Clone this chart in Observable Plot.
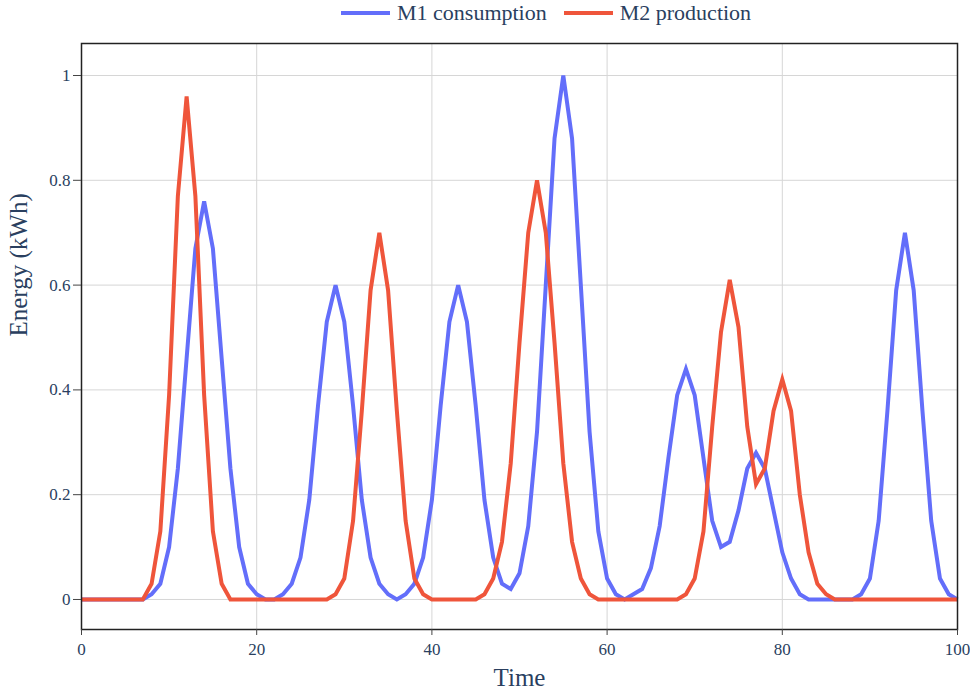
<!DOCTYPE html>
<html>
<head>
<meta charset="utf-8">
<script src="https://cdn.jsdelivr.net/npm/d3@7"></script>
<script src="https://cdn.jsdelivr.net/npm/@observablehq/plot@0.6"></script>
<style>
  html, body { margin: 0; padding: 0; background: #fff; }
  body { width: 970px; font-family: "Liberation Serif", serif; }
  #legend { height: 25px; display: flex; align-items: center; padding-left: 341px; color: #2a3f5f; font-size: 22px; box-sizing: border-box; font-family: "Liberation Serif", serif; }
  .item { display: flex; align-items: center; }
  .item + .item { margin-left: 17px; }
  .swatch { width: 49px; height: 4px; margin-right: 7px; }
  #chart svg { display: block; }
  #chart svg text { font-family: "Liberation Serif", serif; }
</style>
</head>
<body>
<div id="legend"></div>
<div id="chart"></div>
<script>
// ---- data ----
const time = d3.range(0, 101);
const m1Consumption = [
  0, 0, 0, 0, 0, 0, 0, 0, 0.01, 0.03,
  0.1, 0.25, 0.46, 0.67, 0.76, 0.67, 0.46, 0.25, 0.1, 0.03,
  0.01, 0, 0, 0.01, 0.03, 0.08, 0.19, 0.37, 0.53, 0.6,
  0.53, 0.37, 0.19, 0.08, 0.03, 0.01, 0, 0.01, 0.03, 0.08,
  0.19, 0.37, 0.53, 0.6, 0.53, 0.37, 0.19, 0.08, 0.03, 0.02,
  0.05, 0.14, 0.32, 0.6, 0.88, 1.0, 0.88, 0.6, 0.32, 0.13,
  0.04, 0.01, 0, 0.01, 0.02, 0.06, 0.14, 0.27, 0.39, 0.44,
  0.39, 0.27, 0.15, 0.1, 0.11, 0.17, 0.25, 0.28, 0.25, 0.17,
  0.09, 0.04, 0.01, 0, 0, 0, 0, 0, 0, 0.01,
  0.04, 0.15, 0.36, 0.59, 0.7, 0.59, 0.36, 0.15, 0.04, 0.01,
  0
];
const m2Production = [
  0, 0, 0, 0, 0, 0, 0, 0, 0.03, 0.13,
  0.39, 0.77, 0.96, 0.77, 0.39, 0.13, 0.03, 0, 0, 0,
  0, 0, 0, 0, 0, 0, 0, 0, 0, 0.01,
  0.04, 0.15, 0.36, 0.59, 0.7, 0.59, 0.36, 0.15, 0.04, 0.01,
  0, 0, 0, 0, 0, 0, 0.01, 0.04, 0.11, 0.26,
  0.49, 0.7, 0.8, 0.7, 0.49, 0.26, 0.11, 0.04, 0.01, 0,
  0, 0, 0, 0, 0, 0, 0, 0, 0, 0.01,
  0.04, 0.13, 0.33, 0.51, 0.61, 0.52, 0.33, 0.22, 0.25, 0.36,
  0.42, 0.36, 0.2, 0.09, 0.03, 0.01, 0, 0, 0, 0,
  0, 0, 0, 0, 0, 0, 0, 0, 0, 0,
  0
];
const seriesNames = ["M1 consumption", "M2 production"];
const seriesColors = ["#636efa", "#ef553b"];
const xTicks = [0, 20, 40, 60, 80, 100];
const yTicks = [0, 0.2, 0.4, 0.6, 0.8, 1];
const xTitle = "Time";
const yTitle = "Energy (kWh)";

// ---- table ----
const seriesValues = [m1Consumption, m2Production];
const rows = [];
seriesNames.forEach((name, i) => {
  time.forEach((t, j) => rows.push({ time: t, value: seriesValues[i][j], series: name }));
});

// ---- legend ----
const legend = document.getElementById("legend");
seriesNames.forEach((name, i) => {
  const item = document.createElement("div");
  item.className = "item";
  const sw = document.createElement("div");
  sw.className = "swatch";
  sw.style.background = seriesColors[i];
  const label = document.createElement("span");
  label.textContent = name;
  item.appendChild(sw);
  item.appendChild(label);
  legend.appendChild(item);
});

// ---- chart ----
const textColor = "#2a3f5f";
const serif = '"Liberation Serif", serif';
const chart = Plot.plot({
  width: 970,
  height: 669,
  marginTop: 18,
  marginBottom: 65,
  marginLeft: 81,
  marginRight: 13,
  style: { fontFamily: serif, fontSize: "17px", color: textColor, background: "white" },
  x: { domain: [0, 100] },
  y: { domain: [-0.0573, 1.0611] },
  color: { domain: seriesNames, range: seriesColors },
  marks: [
    Plot.gridX(xTicks, { stroke: "#d6d6d6", strokeOpacity: 1, strokeWidth: 1 }),
    Plot.gridY(yTicks, { stroke: "#d6d6d6", strokeOpacity: 1, strokeWidth: 1 }),
    Plot.line(rows, {
      x: "time", y: "value", z: "series", stroke: "series",
      strokeWidth: 4, strokeLinejoin: "miter", strokeMiterlimit: 4, strokeLinecap: "butt"
    }),
    Plot.frame({ stroke: "#222", strokeWidth: 1.5 }),
    Plot.axisX(xTicks, {
      tickSize: 6, tickPadding: 7, stroke: "#444", fill: textColor,
      fontSize: 17, fontFamily: serif, tickFormat: d => String(d), label: null
    }),
    Plot.axisY(yTicks, {
      tickSize: 8, tickPadding: 3, stroke: "#444", fill: textColor,
      fontSize: 17, fontFamily: serif, tickFormat: d => String(d), label: null
    }),
    Plot.text([xTitle], { text: d => d, frameAnchor: "bottom", dy: 48, fontSize: 25, fontFamily: serif, fill: textColor, lineAnchor: "middle" }),
    Plot.text([yTitle], { text: d => d, frameAnchor: "left", dx: -63, rotate: -90, fontSize: 25, fontFamily: serif, fill: textColor, lineAnchor: "middle" })
  ]
});
document.getElementById("chart").appendChild(chart);
</script>
</body>
</html>
